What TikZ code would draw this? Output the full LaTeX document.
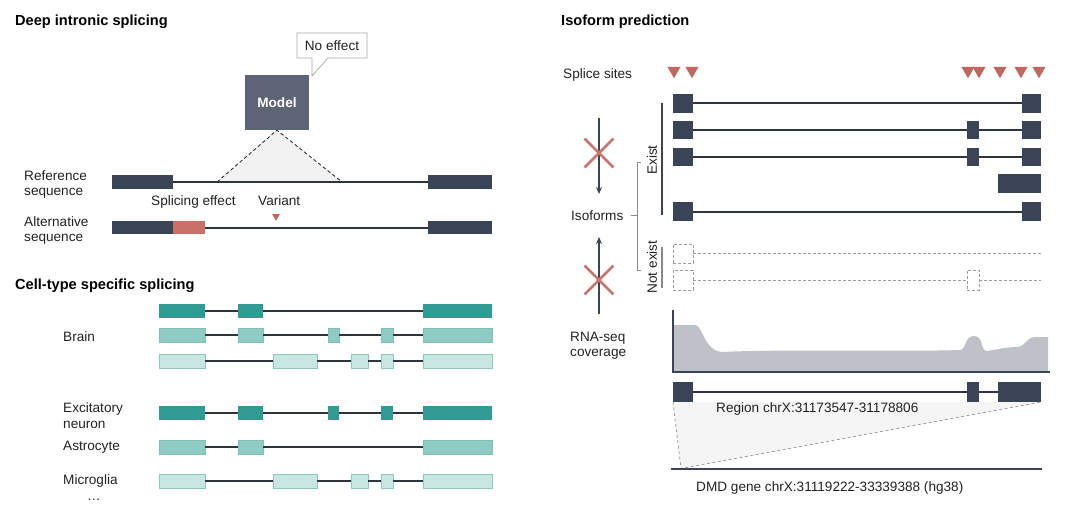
\documentclass[tikz,border=0pt]{standalone}
\usepackage{fontspec}
\setmainfont{Liberation Sans}
\usetikzlibrary{arrows.meta,shapes.geometric,shapes.misc}
\definecolor{navy}{HTML}{3B4457}
\definecolor{modelc}{HTML}{5C6475}
\definecolor{redex}{HTML}{C97069}
\definecolor{redtri}{HTML}{C0675F}
\definecolor{redx}{HTML}{C97570}
\definecolor{tdark}{HTML}{2F9B92}
\definecolor{tmed}{HTML}{8FCBC3}
\definecolor{tmedb}{HTML}{7EBFB6}
\definecolor{tlight}{HTML}{C9E7E2}
\definecolor{tlightb}{HTML}{8DC7BF}
\definecolor{covg}{HTML}{BEC1C7}
\definecolor{intr}{HTML}{2E3440}
\definecolor{txt}{HTML}{222222}
\definecolor{brk}{HTML}{8A8A8A}
\newcommand\exn[6]{\node[exon,#6,minimum width={(#3-#2)*1pt},minimum height={(#5-#4)*1pt}] (#1) at ({(#2+#3)/2},{(#4+#5)/2}) {};}
\begin{document}
\begin{tikzpicture}[x=1pt,y=-1pt,
  exon/.style={rectangle,inner sep=0,outer sep=0,draw=none},
  nv/.style={fill=navy},
  dk/.style={fill=tdark},
  md/.style={fill=tmed,draw=tmedb,line width=0.6pt},
  lt/.style={fill=tlight,draw=tlightb,line width=0.6pt},
  ghost/.style={draw=brk!85,dash pattern=on 3pt off 2pt,line width=0.8pt},
  intron/.style={draw=intr,line width=2pt},
  ghostline/.style={draw=brk!85,dash pattern=on 3pt off 2pt,line width=0.8pt},
  lbl/.style={font=\fontsize{13.6pt}{16pt}\selectfont,text=txt,inner sep=0,anchor=base west},
  ttl/.style={font=\fontsize{14.6pt}{17pt}\selectfont\bfseries,text=black,inner sep=0,anchor=base west},
  site/.style={regular polygon,regular polygon sides=3,shape border rotate=180,fill=redtri,inner sep=0,minimum size=15pt},
  xmark/.style={cross out,draw=redx,line width=2.8pt,inner sep=0,minimum size=26pt},
  axarrow/.style={draw=navy,line width=1.6pt,-{Stealth[length=7pt,width=6pt]}}
]
\useasboundingbox (0,0) rectangle (1080,527);

% ================= Deep intronic splicing =================
\node[ttl] (t1) at (15,26) {Deep intronic splicing};

% reference sequence
\exn{refL}{112}{173}{175}{189}{nv}
\exn{refR}{428}{492}{175}{189}{nv}
\coordinate (triL) at (217,182);
\coordinate (triR) at (342,182);
% model
\node[rectangle,fill=modelc,minimum width=64pt,minimum height=55pt,inner sep=0,
      text=white,font=\fontsize{13.6pt}{16pt}\selectfont\bfseries] (model) at (277,102.5) {Model};
\fill[black!5] (model.south) -- (triL) -- (triR) -- cycle;
\draw[black!80,dash pattern=on 3.5pt off 2.5pt,line width=0.9pt] (triL) -- (model.south) -- (triR);
\draw[intron] (refL) -- (refR);
% callout
\draw[draw=black!35,fill=white,line width=0.7pt]
  (297,33) -- (367,33) -- (367,58) -- (328,58) -- (312,76) -- (312,58) -- (297,58) -- cycle;
\node[lbl,anchor=center] (noeff) at (332,46) {No effect};

\node[lbl] (ref1) at (24,180) {Reference};
\node[lbl] (ref2) at (24,195.5) {sequence};
\node[lbl] (alt1) at (24,226) {Alternative};
\node[lbl] (alt2) at (24,241.5) {sequence};
\node[lbl] (spl) at (151,205) {Splicing effect};
\node[lbl] (var) at (258,205) {Variant};
\node[regular polygon,regular polygon sides=3,shape border rotate=180,fill=redtri,inner sep=0,minimum size=9pt] (vtri) at (276,216.3) {};

% alternative sequence
\exn{altL}{112}{173}{221}{234}{nv}
\exn{altX}{173}{205}{221}{234}{fill=redex}
\exn{altR}{428}{492}{221}{234}{nv}
\draw[intron] (altX) -- (altR);

% ================= Cell-type specific splicing =================
\node[ttl] (t2) at (15,289) {Cell-type specific splicing};
\node[lbl] (brain) at (63,341) {Brain};
\node[lbl] (exc1) at (63,412.7) {Excitatory};
\node[lbl] (exc2) at (63,428) {neuron};
\node[lbl] (astro) at (63,450.7) {Astrocyte};
\node[lbl] (micro) at (63,484) {Microglia};
\node[lbl] (dots) at (87,500) {\ldots};

% row 1 dark
\foreach \n/\a/\b in {a/159/205,b/238/263,c/423/492} {\exn{r1\n}{\a}{\b}{304}{318}{dk}}
\draw[intron] (r1a) -- (r1b) -- (r1c);
% row 2 medium
\foreach \n/\a/\b in {a/159/205,b/238/263,d/328/339,e/381/393,c/423/492} {\exn{r2\n}{\a}{\b}{328}{342}{md}}
\draw[intron] (r2a) -- (r2b) -- (r2d) -- (r2e) -- (r2c);
% row 3 light
\foreach \n/\a/\b in {a/159/205,f/273/317,g/351/368,e/381/393,c/423/492} {\exn{r3\n}{\a}{\b}{354}{368}{lt}}
\draw[intron] (r3a) -- (r3f) -- (r3g) -- (r3e) -- (r3c);
% row 4 dark (excitatory neuron)
\foreach \n/\a/\b in {a/159/205,b/238/263,d/328/339,e/381/393,c/423/492} {\exn{r4\n}{\a}{\b}{406}{420}{dk}}
\draw[intron] (r4a) -- (r4b) -- (r4d) -- (r4e) -- (r4c);
% row 5 medium (astrocyte)
\foreach \n/\a/\b in {a/159/205,b/238/263,c/423/492} {\exn{r5\n}{\a}{\b}{440}{454}{md}}
\draw[intron] (r5a) -- (r5b) -- (r5c);
% row 6 light (microglia)
\foreach \n/\a/\b in {a/159/205,f/273/317,g/351/368,e/381/393,c/423/492} {\exn{r6\n}{\a}{\b}{474}{488}{lt}}
\draw[intron] (r6a) -- (r6f) -- (r6g) -- (r6e) -- (r6c);

% ================= Isoform prediction =================
\node[ttl] (t3) at (561,26) {Isoform prediction};
\node[lbl] (ss) at (563,78) {Splice sites};
\foreach \i/\x in {1/674,2/692,3/968,4/979,5/1000,6/1021,7/1039} {\node[site] (s\i) at (\x,70.75) {};}

% existing isoforms
\exn{i1L}{673}{693}{94}{113}{nv}
\exn{i1R}{1022}{1041}{94}{113}{nv}
\draw[intron] (i1L) -- (i1R);
\exn{i2L}{673}{693}{121}{139}{nv}
\exn{i2M}{967}{979}{121}{139}{nv}
\exn{i2R}{1022}{1041}{121}{139}{nv}
\draw[intron] (i2L) -- (i2M) -- (i2R);
\exn{i3L}{673}{693}{148}{166}{nv}
\exn{i3M}{967}{979}{148}{166}{nv}
\exn{i3R}{1022}{1041}{148}{166}{nv}
\draw[intron] (i3L) -- (i3M) -- (i3R);
\exn{i4B}{998}{1041}{174}{193}{nv}
\exn{i5L}{673}{693}{202}{221}{nv}
\exn{i5R}{1022}{1041}{202}{221}{nv}
\draw[intron] (i5L) -- (i5R);

% non-existing isoforms
\exn{n1L}{673}{693}{244}{263}{ghost}
\coordinate (n1E) at (1041,253.5);
\draw[ghostline] (n1L) -- (n1E);
\exn{n2L}{673}{693}{270}{290}{ghost}
\exn{n2M}{967}{979}{270}{290}{ghost}
\coordinate (n2E) at (1041,280);
\draw[ghostline] (n2L) -- (n2M) -- (n2E);

% bars and labels
\coordinate (exT) at (662,103);
\coordinate (exB) at (662,215);
\draw[navy,line width=2pt] (exT) -- (exB);
\coordinate (neT) at (662,247);
\coordinate (neB) at (662,288);
\draw[brk,line width=2pt] (neT) -- (neB);
\node[font=\fontsize{13.6pt}{16pt}\selectfont,text=txt,inner sep=0,rotate=90] (exist) at (652,160) {Exist};
\node[font=\fontsize{13.6pt}{16pt}\selectfont,text=txt,inner sep=0,rotate=90] (notexist) at (652,267) {Not exist};

\node[lbl] (iso) at (571,220) {Isoforms};
\coordinate (brT) at (637,162);
\coordinate (brB) at (637,270);
\coordinate (brM) at (637,215);
\draw[brk,line width=0.8pt] ([xshift=4pt]brT) -- (brT) -- (brB) -- ([xshift=4pt]brB);
\draw[brk,line width=0.8pt] ([xshift=7pt]iso.east |- brM) -- (brM);

% arrows with crosses
\coordinate (a1s) at (599,118);
\coordinate (a1e) at (599,194);
\draw[axarrow] (a1s) -- (a1e);
\coordinate (a2s) at (599,314);
\coordinate (a2e) at (599,237);
\draw[axarrow] (a2s) -- (a2e);
\node[xmark] (x1) at (599,153) {};
\node[xmark] (x2) at (599,280) {};

% RNA-seq coverage
\node[lbl] (rna1) at (570,341.7) {RNA-seq};
\node[lbl] (rna2) at (570,356.5) {coverage};
\fill[covg] (673,372) -- (673,325) -- (695,325)
  .. controls (703,325) and (703,350) .. (722,352)
  .. controls (780,349) and (900,352) .. (960,350)
  .. controls (967,349) and (964,336) .. (974,336)
  .. controls (984,336) and (980,351) .. (987,351)
  .. controls (995,350) and (1005,347) .. (1018,347)
  .. controls (1026,346) and (1026,337) .. (1036,337)
  -- (1048,337) -- (1048,372) -- cycle;
\coordinate (axT) at (673,310);
\coordinate (axO) at (673,372);
\coordinate (axR) at (1050,372);
\draw[navy,line width=1.4pt] (axT) -- (axO) -- (axR);

% gene region
\exn{gL}{673}{693}{382}{402}{nv}
\exn{gM}{967}{979}{382}{402}{nv}
\exn{gB}{998}{1041}{382}{402}{nv}
\coordinate (dmdL) at (671,469);
\coordinate (dmdR) at (1042,469);
\coordinate (zt) at (681,468.5);
\fill[black!4] (gL.south west) -- (gB.south east) -- (zt) -- cycle;
\draw[brk!90,dash pattern=on 3pt off 2.5pt,line width=0.7pt] (gL.south west) -- (zt) -- (gB.south east);
\draw[intron] (gL) -- (gM) -- (gB);
\node[lbl] (region) at (716,412) {Region chrX:31173547-31178806};
\draw[navy,line width=1.8pt] (dmdL) -- (dmdR);
\node[lbl] (dmd) at (696,491) {DMD gene chrX:31119222-33339388 (hg38)};
\end{tikzpicture}
\end{document}
